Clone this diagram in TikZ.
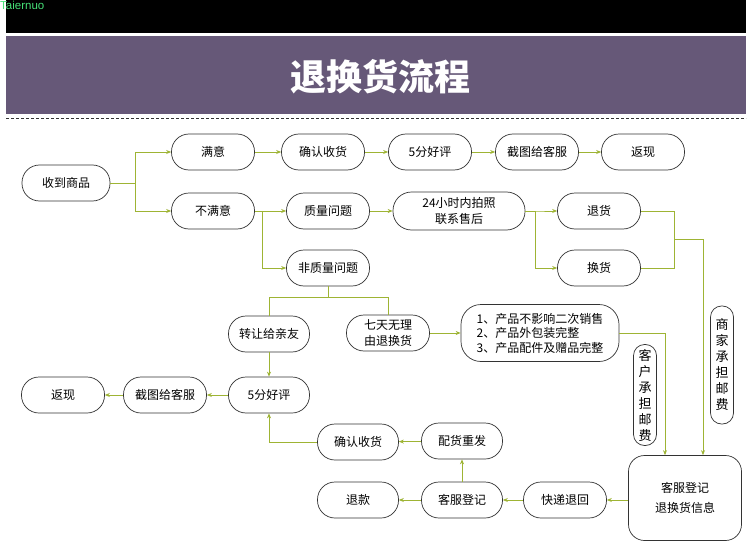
\documentclass[tikz,border=0pt]{standalone}
\usepackage{fontspec}
\setmainfont{Liberation Sans}
\newfontfamily\cjk{Noto Sans CJK SC}
\usetikzlibrary{arrows.meta,calc}
\definecolor{connc}{RGB}{158,180,52}
\definecolor{bandc}{RGB}{102,88,120}
\definecolor{wmc}{RGB}{70,225,120}
\begin{document}
\begin{tikzpicture}[x=1pt,y=-1pt,
 box/.style={draw=black!80,line width=0.7pt,rounded corners=17.5pt,minimum width=83pt,minimum height=36pt,inner sep=0pt,font=\cjk\fontsize{12}{16}\selectfont,align=center,fill=white},
 ln/.style={draw=connc,line width=0.8pt},
 arr/.style={ln,-{Stealth[length=5pt,width=4pt]}},
 vbox/.style={draw=black!80,line width=0.7pt,rounded corners=11pt,minimum width=23pt,inner sep=0pt,align=center,font=\cjk\fontsize{13}{16}\selectfont,fill=white}]
\useasboundingbox (0,0) rectangle (750,543);
\fill[white] (0,0) rectangle (750,543);
% header
\fill[black] (6,0) rectangle (746,33);
\node[anchor=north west,inner sep=0pt,text=wmc,font=\fontsize{11.5}{13}\selectfont] (wm) at (0,1) {Taiernuo};
\fill[bandc] (6,36) rectangle (746,114);
\node[text=white,font=\cjk\bfseries\fontsize{36}{40}\selectfont] (title) at (380,77) {退换货流程};
\draw[black!80,line width=0.6pt,dash pattern=on 3pt off 2pt] (6,118) -- (746,118);
% nodes row 1
\node[box,minimum width=88pt] (recv) at (66,183) {收到商品};
\node[box] (sat) at (213,152) {满意};
\node[box] (conf1) at (323,152) {确认收货};
\node[box] (good1) at (430,152) {5分好评};
\node[box] (shot1) at (537,152) {截图给客服};
\node[box] (cash1) at (643,152) {返现};
% row 2
\node[box] (unsat) at (213,211) {不满意};
\node[box] (qual) at (328,211) {质量问题};
\node[box,minimum width=132pt,minimum height=38pt,rounded corners=18.5pt,font=\cjk\fontsize{12}{16}\selectfont] (h24) at (459,211) {24小时内拍照\\联系售后};
\node[box] (ret) at (599,211) {退货};
\node[box] (exch) at (599,268) {换货};
\node[box] (nq) at (328,268) {非质量问题};
% row 3
\node[box,minimum width=81pt] (gift) at (269,334) {转让给亲友};
\node[box] (seven) at (388,333) {七天无理\\由退换货};
\node[box,minimum width=158pt,minimum height=57pt,rounded corners=20pt,align=left,font=\cjk\fontsize{12}{14.5}\selectfont] (list) at (540,333) {1、产品不影响二次销售\\2、产品外包装完整\\3、产品配件及赠品完整};
\node[vbox,minimum height=101pt] (cust) at (645,395) {客\\户\\承\\担\\邮\\费};
\node[vbox,minimum height=118pt] (merc) at (722,365) {商\\家\\承\\担\\邮\\费};
% row 4
\node[box] (cash2) at (63,395) {返现};
\node[box] (shot2) at (165,395) {截图给客服};
\node[box,minimum width=81pt] (good2) at (269,395) {5分好评};
% row 5/6
\node[box,minimum width=81pt] (conf2) at (358,442) {确认收货};
\node[box,minimum width=81pt] (resend) at (462,441) {配货重发};
\node[box,minimum width=81pt] (refund) at (358,500) {退款};
\node[box,minimum width=81pt] (reg) at (462,500) {客服登记};
\node[box,minimum width=83pt] (exp) at (565,500) {快递退回};
\node[box,minimum width=113pt,minimum height=85pt,rounded corners=16pt,font=\cjk\fontsize{12}{20}\selectfont] (big) at (685,498) {客服登记\\退换货信息};
% connectors
\draw[arr] (recv.east) -- ++(25,0) |- (sat.west);
\draw[arr] (recv.east) -- ++(25,0) |- (unsat.west);
\draw[arr] (sat) -- (conf1);
\draw[arr] (conf1) -- (good1);
\draw[arr] (good1) -- (shot1);
\draw[arr] (shot1) -- (cash1);
\draw[arr] (unsat) -- (qual);
\draw[arr] (unsat.east) -- ++(8,0) |- (nq.west);
\draw[arr] (qual) -- (h24);
\draw[arr] (h24.east) -- ++(10,0) |- (ret.west);
\draw[arr] (h24.east) -- ++(10,0) |- (exch.west);
\coordinate (jm) at (674,239);
\draw[ln] (ret.east) -| (jm);
\draw[ln] (exch.east) -| (jm);
\draw[arr] (jm) -| ([xshift=18pt]big.north);
\coordinate (split) at (328,297);
\draw[ln] (nq.south) -- (split);
\draw[ln] (split) -| (gift.north);
\draw[ln] (split) -| (seven.north);
\draw[arr] (gift) -- (good2);
\draw[arr] (good2) -- (shot2);
\draw[arr] (shot2) -- (cash2);
\draw[arr] (seven) -- (list);
\draw[arr] (list.east) -| ([xshift=-20pt]big.north);
\draw[arr] (big.west |- exp) -- (exp.east);
\draw[arr] (exp) -- (reg);
\draw[arr] (reg) -- (refund);
\draw[arr] (reg) -- (resend);
\draw[arr] (resend) -- (conf2);
\draw[arr] (conf2.west) -| (good2.south);
\end{tikzpicture}
\end{document}
